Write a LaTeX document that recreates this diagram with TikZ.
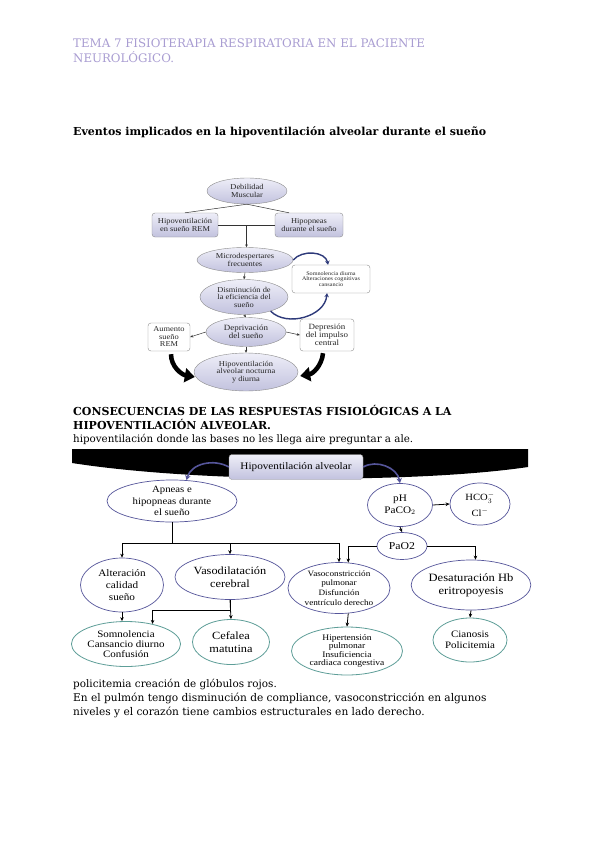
\documentclass[tikz,border=0pt]{standalone}
\usepackage{fontspec}
\setmainfont{DejaVu Serif}
\newfontfamily\diag[FakeStretch=1.12]{Liberation Serif}
\usetikzlibrary{shapes.geometric,arrows.meta,calc}
\definecolor{headc}{HTML}{A99DD2}
\definecolor{lavT}{HTML}{EEEEF8}
\definecolor{lavB}{HTML}{C2C2DE}
\definecolor{purpB}{HTML}{55559A}
\definecolor{tealC}{HTML}{5E9E98}
\definecolor{blueC}{HTML}{2E3A7A}
\newcommand{\fs}[1]{\fontsize{#1}{#1}\selectfont}
\newcommand{\fsl}[1]{\fontsize{#1}{1.18\dimexpr #1pt\relax}\selectfont}
\tikzset{
  bodytxt/.style={anchor=base west, inner sep=0pt, font=\fs{10.4}},
  lnk/.style={draw=black!80, line width=0.5pt},
  arrA/.style={lnk, -{Stealth[length=3pt,width=2.6pt]}},
  ovA/.style={ellipse, draw=black!45, top color=lavT, bottom color=lavB, inner sep=0pt, align=center, font=\diag\fs{7.5}, text=black!85},
  bxA/.style={rectangle, rounded corners=3pt, draw=black!45, top color=lavT, bottom color=lavB, inner sep=0pt, align=center, font=\diag\fs{7.5}, text=black!85},
  bxW/.style={rectangle, rounded corners=3pt, draw=black!45, fill=white, inner sep=0pt, align=center, font=\diag\fs{7.5}, text=black!85},
  ovB/.style={ellipse, draw=purpB, line width=0.7pt, fill=white, inner sep=0pt, align=center, font=\diag},
  ovC/.style={ellipse, draw=tealC, line width=0.8pt, fill=white, inner sep=0pt, align=center, font=\diag},
  arrB/.style={draw=black, line width=0.8pt, -{Stealth[length=4pt,width=3.5pt]}},
  curvA/.style={draw=blueC, line width=1.4pt, -{Stealth[length=4pt,width=4.5pt]}},
  curvB/.style={draw=purpB, line width=1.6pt, -{Stealth[length=5pt,width=5.5pt]}},
  bigarr/.style={draw=black, line width=4.5pt, -{Triangle[length=10pt,width=14pt]}}
}
\begin{document}
\begin{tikzpicture}[x=1pt,y=-1pt]
\fill[white] (0,0) rectangle (599,848);
\useasboundingbox (0,0) rectangle (599,848);
% ---------- page text ----------
\node[bodytxt, text=headc, font=\fs{11.8}] (h1) at (73,47.5) {TEMA 7 FISIOTERAPIA RESPIRATORIA EN EL PACIENTE};
\node[bodytxt, text=headc, font=\fs{11.8}] (h2) at (73,62.3) {NEUROLÓGICO.};
\node[bodytxt, font=\fs{11}\bfseries] (t1) at (73,135.7) {Eventos implicados en la hipoventilación alveolar durante el sueño};
\node[bodytxt, font=\fs{11}\bfseries] (t2) at (73,415.7) {CONSECUENCIAS DE LAS RESPUESTAS FISIOLÓGICAS A LA};
\node[bodytxt, font=\fs{11}\bfseries] (t3) at (73,429.3) {HIPOVENTILACIÓN ALVEOLAR.};
\node[bodytxt, font=\fs{10.3}] (t4) at (73,442.7) {hipoventilación donde las bases no les llega aire preguntar a ale.};
\node[bodytxt] (t5) at (73,687.5) {policitemia creación de glóbulos rojos.};
\node[bodytxt, font=\fs{10.6}] (t6) at (73,701.7) {En el pulmón tengo disminución de compliance, vasoconstricción en algunos};
\node[bodytxt, font=\fs{10.6}] (t7) at (73,715.7) {niveles y el corazón tiene cambios estructurales en lado derecho.};
% ---------- diagram 1 ----------
\node[ovA, minimum width=80, minimum height=26] (deb) at (247,191) {Debilidad\\Muscular};
\node[bxA, minimum width=66, minimum height=24] (hrem) at (185,225) {Hipoventilación\\en sueño REM};
\node[bxA, minimum width=68, minimum height=24] (hip) at (309,225) {Hipopneas\\durante el sueño};
\node[ovA, minimum width=96, minimum height=25] (micro) at (245,260) {Microdespertares\\frecuentes};
\node[bxW, minimum width=78, minimum height=28, font=\diag\fs{5.5}] (somn) at (331,279) {Somnolencia diurna\\Alteraciones cognitivas\\cansancio};
\node[ovA, minimum width=88, minimum height=35] (dism) at (244,297) {Disminución de\\la eficiencia del\\sueño};
\node[ovA, minimum width=80, minimum height=29, font=\diag\fs{8}] (depr) at (246,332) {Deprivación\\del sueño};
\node[bxW, minimum width=42, minimum height=28] (aum) at (169,337) {Aumento\\sueño\\REM};
\node[bxW, minimum width=54, minimum height=32, font=\diag\fs{8}] (depc) at (327,335) {Depresión\\del impulso\\central};
\node[ovA, minimum width=104, minimum height=38] (hal) at (246,372) {Hipoventilación\\alveolar nocturna\\y diurna};
\coordinate (mj) at ($(hrem.east)!0.5!(hip.west)$);
\draw[lnk] (deb.south) -- (hrem.north);
\draw[lnk] (deb.south) -- ($(hip.north)+(-20,0)$);
\draw[lnk] (hrem.east) -- (hip.west);
\draw[arrA] (mj) -- (mj |- micro.north);
\draw[arrA] (micro.south) -- (dism.north);
\draw[arrA] (dism.south) -- (depr.north);
\draw[arrA] (depr.west) -- (aum.east);
\draw[arrA] (depr.east) -- (depc.west);
\draw[arrA] (depr.south) -- (hal.north);
\draw[curvA] (micro.east) to[out=50,in=100] ($(somn.north)+(-3,0)$);
\draw[curvA] (dism.-28) to[out=-45,in=-95] ($(somn.south)+(-4,0)$);
\draw[bigarr] ($(aum.south)+(2,3)$) to[out=-90,in=170] ($(hal.west)+(1,5)$);
\draw[bigarr] ($(depc.south)+(-4,2)$) to[out=-95,in=10] ($(hal.east)+(2,4)$);
% ---------- diagram 2 ----------
\fill[black] (72,449) -- (528,449) -- (528,467) .. controls (420,483) and (200,483) .. (72,463) -- cycle;
\node[rectangle, rounded corners=3pt, draw=black!40, top color=lavT, bottom color=lavB, minimum width=134, minimum height=25, inner sep=0pt, font=\diag\fs{10}] (hyp) at (296,467) {Hipoventilación alveolar};
\node[ovB, minimum width=130, minimum height=42, font=\diag\fsl{9.6}] (apn) at (172,501) {Apneas e\\hipopneas durante\\el sueño};
\node[ovB, minimum width=65, minimum height=43, font=\diag\fsl{10}] (ph) at (400,505) {pH\\PaCO$_2$};
\node[ovB, minimum width=60, minimum height=42, font=\diag\fs{9.5}] (hco) at (480,504) {HCO$_3^-$\\[4pt]Cl$^-$};
\node[ovB, minimum width=50, minimum height=27, font=\diag\fs{10.5}] (pao) at (402,546) {PaO2};
\node[ovB, minimum width=83, minimum height=54, font=\diag\fsl{10}] (alt) at (122,585) {Alteración\\calidad\\sueño};
\node[ovB, minimum width=110, minimum height=45, font=\diag\fsl{11}] (vsd) at (230,577) {Vasodilatación\\cerebral};
\node[ovB, minimum width=102, minimum height=51, font=\diag\fsl{8.2}] (vsc) at (339,588) {Vasoconstricción\\pulmonar\\Disfunción\\ventrículo derecho};
\node[ovB, minimum width=118, minimum height=50, font=\diag\fsl{11.2}] (des) at (471,585) {Desaturación Hb\\eritropoyesis};
\node[ovC, minimum width=108, minimum height=45, font=\diag\fs{9.8}] (som) at (126,644) {Somnolencia\\Cansancio diurno\\Confusión};
\node[ovC, minimum width=77, minimum height=45, font=\diag\fsl{11}] (cef) at (231,642) {Cefalea\\matutina};
\node[ovC, minimum width=111, minimum height=48, font=\diag\fs{8.5}] (hta) at (347,651) {Hipertensión\\pulmonar\\Insuficiencia\\cardiaca congestiva};
\node[ovC, minimum width=74, minimum height=44, font=\diag\fsl{9.8}] (cia) at (470,640) {Cianosis\\Policitemia};
\draw[curvB] (hyp.west) to[out=150,in=75] (apn.55);
\draw[curvB] (hyp.east) to[out=30,in=100] (ph.north);
\draw[arrB] (ph.east) -- (hco.west);
\draw[arrB] (ph.south) -- (pao.north);
\draw[arrB] (apn.south) -- ++(0,21) -| (alt.north);
\draw[arrB] (apn.south) -- ++(0,21) -| (vsd.north);
\draw[arrB] (apn.south) -- ++(0,21) -| (vsc.north);
\draw[arrB] (pao.west) -| (vsc.70);
\draw[arrB] (pao.east) -| (des.80);
\draw[arrB] (alt.south) -- (alt.south |- som.north);
\draw[arrB] (vsd.south) -- ++(0,11) -| (som.37);
\draw[arrB] (vsd.south) -- (cef.north);
\draw[arrB] (vsc.-70) -- (hta.north);
\draw[arrB] (des.south) -- (cia.north);
\end{tikzpicture}
\end{document}
